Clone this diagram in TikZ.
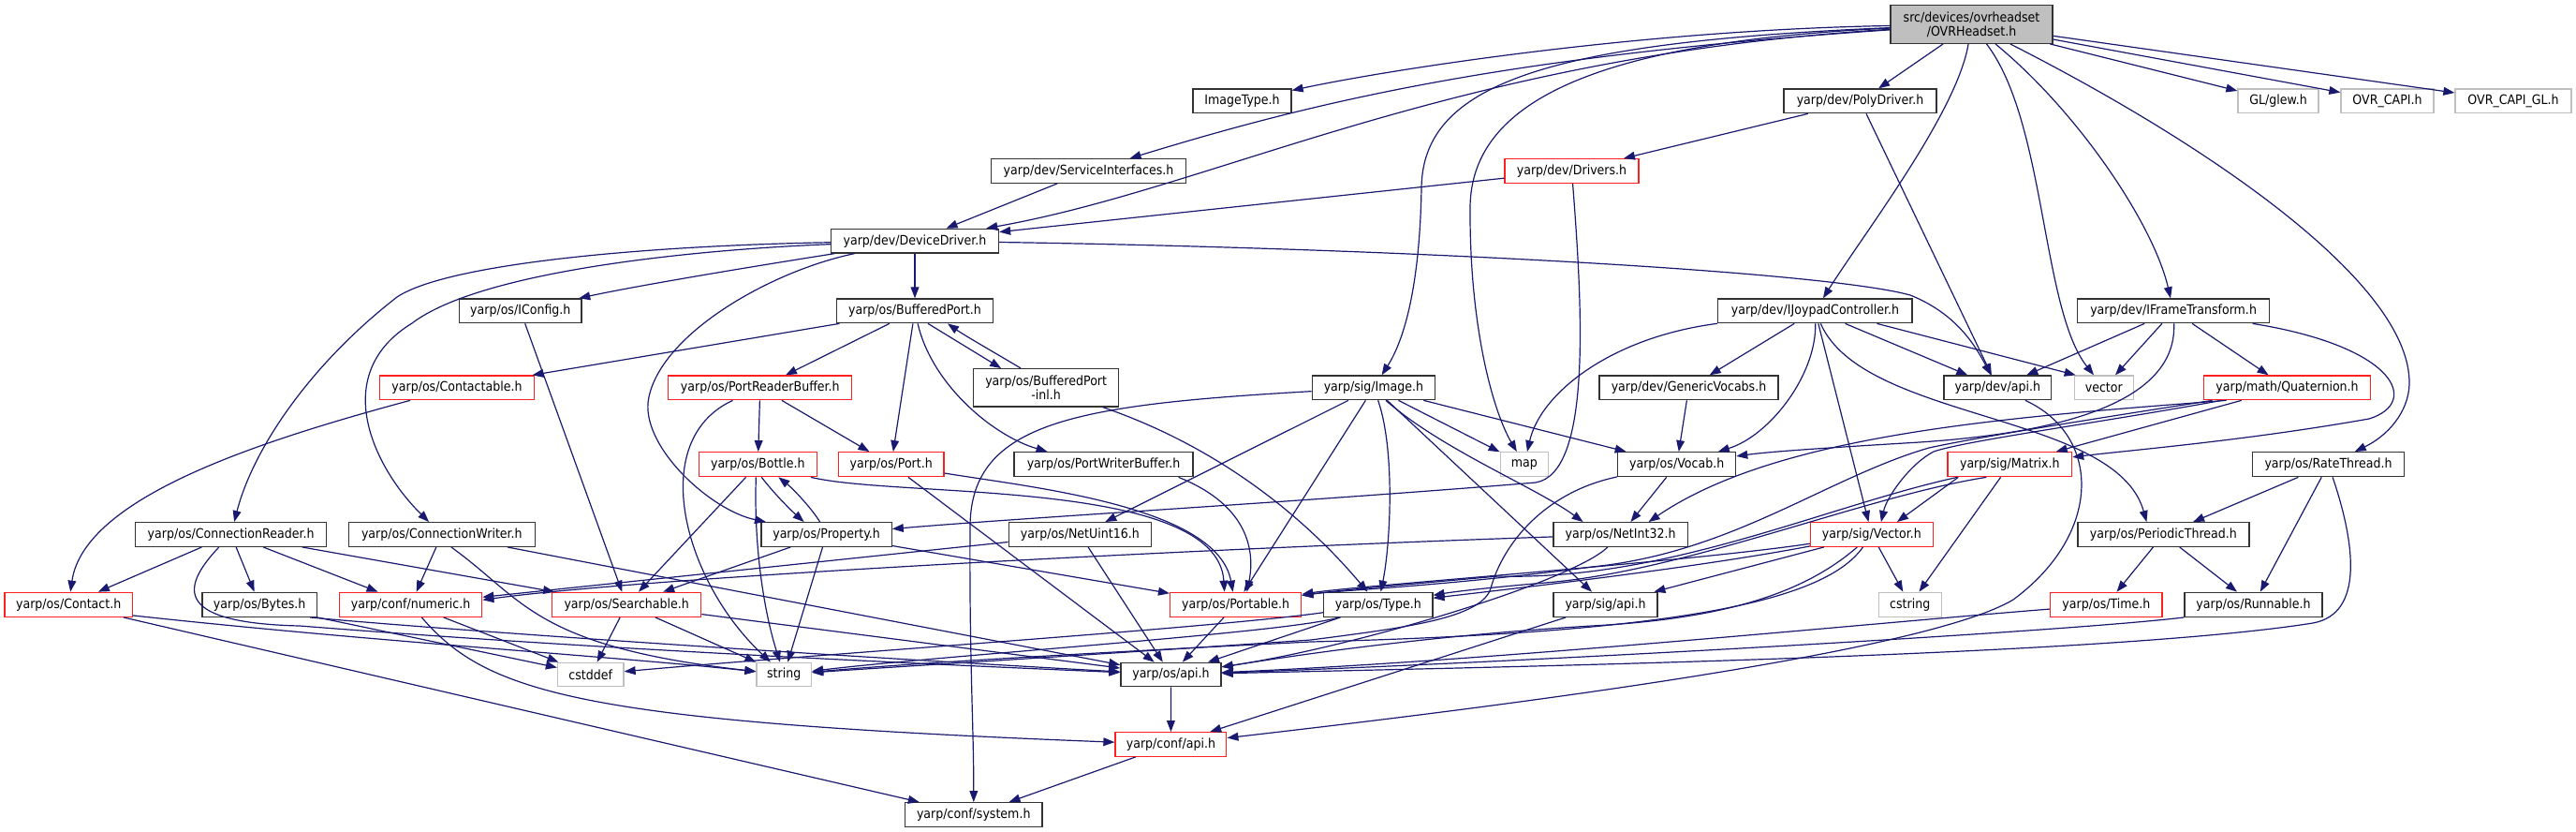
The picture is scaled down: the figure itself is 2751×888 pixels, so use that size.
\documentclass[tikz,border=0pt]{standalone}
\usepackage{fontspec}
\setmainfont{DejaVu Sans}[FakeStretch=0.9]
\usetikzlibrary{arrows.meta,calc}
\definecolor{edgeblue}{HTML}{191970}
\definecolor{greyline}{HTML}{BFBFBF}
\definecolor{rootfill}{HTML}{BFBFBF}
\definecolor{redline}{HTML}{FF2020}
\newcommand\mkbox[7]{\node[#6,minimum width={(#4-#2)*0.5pt},minimum height={(#5-#3)*0.5pt}] (#1) at ({(#2+#4)/2},{(#3+#5)/2}) {#7};}
\begin{document}
\begin{tikzpicture}[x=0.5pt,y=-0.5pt,
  base/.style={rectangle,inner sep=0pt,line width=0.65pt,font=\fontsize{7}{7.5}\selectfont,align=center,fill=white,text=black},
  blk/.style={base,draw=black!80},
  redb/.style={base,draw=redline},
  gry/.style={base,draw=greyline},
  rootbox/.style={base,draw=black!80,fill=rootfill},
  lnk/.style={draw=edgeblue,line width=0.6pt,-{Triangle[length=6pt,width=4.4pt]}}]
\useasboundingbox (0,0) rectangle (2751,888);
\fill[white] (0,0) rectangle (2751,888);
% nodes
\mkbox{root}{2019}{5.7}{2192}{46.3}{rootbox}{src/devices/ovrheadset\\/OVRHeadset.h}
\mkbox{imagetype}{1274}{95}{1379}{120.7}{blk}{ImageType.h}
\mkbox{polydriver}{1905}{95}{2068}{120.7}{blk}{yarp/dev/PolyDriver.h}
\mkbox{glew}{2390}{95}{2476}{120.7}{gry}{GL/glew.h}
\mkbox{ovrcapi}{2500}{95}{2599}{120.7}{gry}{OVR\_CAPI.h}
\mkbox{ovrcapigl}{2622}{95}{2746}{120.7}{gry}{OVR\_CAPI\_GL.h}
\mkbox{svc}{1058.5}{169.7}{1266.5}{195.3}{blk}{yarp/dev/ServiceInterfaces.h}
\mkbox{drivers}{1607}{169.7}{1750}{195.3}{redb}{yarp/dev/Drivers.h}
\mkbox{dd}{887.5}{244.3}{1066.5}{270}{blk}{yarp/dev/DeviceDriver.h}
\mkbox{iconfig}{490.6}{319}{621}{344.7}{blk}{yarp/os/IConfig.h}
\mkbox{bp}{893.3}{319}{1060.7}{344.7}{blk}{yarp/os/BufferedPort.h}
\mkbox{ijoypad}{1834.8}{319}{2042}{344.7}{blk}{yarp/dev/IJoypadController.h}
\mkbox{ift}{2218.4}{319}{2423.8}{344.7}{blk}{yarp/dev/IFrameTransform.h}
\mkbox{contactable}{405.4}{401}{570.5}{426.7}{redb}{yarp/os/Contactable.h}
\mkbox{prb}{713.8}{401}{909.8}{426.7}{redb}{yarp/os/PortReaderBuffer.h}
\mkbox{bpinl}{1039.7}{393.7}{1194.6}{434}{blk}{yarp/os/BufferedPort\\-inl.h}
\mkbox{image}{1401.3}{401}{1532.6}{426.7}{blk}{yarp/sig/Image.h}
\mkbox{genvocabs}{1708}{401}{1899}{426.7}{blk}{yarp/dev/GenericVocabs.h}
\mkbox{devapi}{2076}{401}{2190.7}{426.7}{blk}{yarp/dev/api.h}
\mkbox{stdvector}{2215.3}{401}{2278.2}{426.7}{gry}{vector}
\mkbox{quaternion}{2353.7}{401}{2531.4}{426.7}{redb}{yarp/math/Quaternion.h}
\mkbox{bottle}{746.4}{482.7}{872.3}{508.7}{redb}{yarp/os/Bottle.h}
\mkbox{port}{895.5}{482.7}{1008}{508.7}{redb}{yarp/os/Port.h}
\mkbox{pwb}{1083}{482.7}{1274.1}{508.7}{blk}{yarp/os/PortWriterBuffer.h}
\mkbox{map}{1602.2}{482.7}{1653.6}{508.7}{gry}{map}
\mkbox{vocab}{1727.7}{482.7}{1853.6}{508.7}{blk}{yarp/os/Vocab.h}
\mkbox{matrix}{2080}{482.7}{2212.6}{508.7}{redb}{yarp/sig/Matrix.h}
\mkbox{ratethread}{2405.5}{482.7}{2567.5}{508.7}{blk}{yarp/os/RateThread.h}
\mkbox{cr}{144.6}{557.7}{348.7}{583.3}{blk}{yarp/os/ConnectionReader.h}
\mkbox{cw}{372.3}{557.7}{571.4}{583.3}{blk}{yarp/os/ConnectionWriter.h}
\mkbox{property}{813}{557.7}{952.2}{583.3}{blk}{yarp/os/Property.h}
\mkbox{netuint16}{1077.2}{557.7}{1229.5}{583.3}{blk}{yarp/os/NetUint16.h}
\mkbox{netint32}{1659}{557.7}{1802.2}{583.3}{blk}{yarp/os/NetInt32.h}
\mkbox{sigvector}{1933.5}{557.7}{2064.3}{583.3}{redb}{yarp/sig/Vector.h}
\mkbox{pthread}{2218.9}{557.7}{2401.9}{583.3}{blk}{yarp/os/PeriodicThread.h}
\mkbox{contact}{4.9}{632.3}{141.5}{658.3}{redb}{yarp/os/Contact.h}
\mkbox{bytes}{216}{632.3}{338.4}{658.3}{blk}{yarp/os/Bytes.h}
\mkbox{numeric}{362.5}{632.3}{514.7}{658.3}{redb}{yarp/conf/numeric.h}
\mkbox{searchable}{589.7}{632.3}{748.7}{658.3}{redb}{yarp/os/Searchable.h}
\mkbox{portable}{1249.6}{632.3}{1389.7}{658.3}{redb}{yarp/os/Portable.h}
\mkbox{ostype}{1413.8}{632.3}{1529.9}{658.3}{blk}{yarp/os/Type.h}
\mkbox{sigapi}{1659}{632.3}{1770.1}{658.3}{blk}{yarp/sig/api.h}
\mkbox{cstring}{2006.3}{632.3}{2073.2}{658.3}{gry}{cstring}
\mkbox{ostime}{2189.8}{632.3}{2309}{658.3}{redb}{yarp/os/Time.h}
\mkbox{runnable}{2333}{632.3}{2480}{658.3}{blk}{yarp/os/Runnable.h}
\mkbox{cstddef}{595.5}{707.3}{666}{732.7}{gry}{cstddef}
\mkbox{stdstring}{808}{707.3}{866.5}{732.7}{gry}{string}
\mkbox{osapi}{1196.9}{707.3}{1304}{732.7}{blk}{yarp/os/api.h}
\mkbox{confapi}{1191}{781.7}{1309.8}{807.3}{redb}{yarp/conf/api.h}
\mkbox{confsystem}{966.5}{856.7}{1113}{882.3}{blk}{yarp/conf/system.h}
% edges from root
\draw[lnk] (root) .. controls (1750,32) and (1480,75) .. (imagetype);
\draw[lnk] (root) .. controls (1600,60) and (1400,110) .. (svc);
\draw[lnk] (root) .. controls (1550,60) and (1300,200) .. (dd);
\draw[lnk] (root) .. controls (1650,45) and (1520,90) .. (1518,200) .. controls (1516,320) and (1495,370) .. (image);
\draw[lnk] (root) .. controls (1700,45) and (1572,110) .. (1570,220) .. controls (1569,350) and (1595,440) .. (map);
\draw[lnk] (root) -- (polydriver);
\draw[lnk] (root) -- (glew);
\draw[lnk] (root) -- (ovrcapi);
\draw[lnk] (root) -- (ovrcapigl);
\draw[lnk] (root) .. controls (2090,120) and (1990,250) .. (ijoypad);
\draw[lnk] (root) .. controls (2185,130) and (2180,330) .. (stdvector);
\draw[lnk] (root) .. controls (2220,120) and (2300,240) .. (ift);
\draw[lnk] (root) .. controls (2350,150) and (2575,300) .. (2573,410) .. controls (2572,440) and (2550,465) .. (ratethread);
% upper part
\draw[lnk] (svc) -- (dd);
\draw[lnk] (polydriver) -- (drivers);
\draw[lnk] (polydriver) -- (devapi);
\draw[lnk] (drivers) -- (dd);
\draw[lnk] (drivers) .. controls (1690,330) and (1700,505) .. (1640,515) .. controls (1400,535) and (1100,552) .. (property);
\draw[lnk] (dd) -- (bp);
\draw[lnk] (dd) .. controls (800,285) and (680,305) .. (iconfig);
\draw[lnk] (dd) .. controls (700,262) and (480,280) .. (424,317) .. controls (330,390) and (270,480) .. (cr);
\draw[lnk] (dd) .. controls (750,266) and (515,288) .. (440,345) .. controls (350,400) and (400,500) .. (cw);
\draw[lnk] (dd) .. controls (820,290) and (700,360) .. (692,430) .. controls (688,480) and (760,545) .. (property);
\draw[lnk] (dd) .. controls (1500,265) and (1950,290) .. (2040,315) .. controls (2090,335) and (2110,370) .. (devapi);
\draw[lnk] (iconfig) -- (searchable);
\draw[lnk] (contactable) .. controls (280,470) and (90,530) .. (contact);
% buffered port
\draw[lnk] (bp) -- (prb);
\draw[lnk] (bp) -- (port);
\draw[lnk] ($(bp.south)+(14,0)$) -- ($(bpinl.north)+(-48,0)$);
\draw[lnk] ($(bpinl.north)+(-27,0)$) .. controls (1065,378) and (1030,358) .. ($(bp.south)+(35,0)$);
\draw[lnk] (bp) .. controls (995,410) and (1060,465) .. ($(pwb.north)+(-60,0)$);
\draw[lnk] (bp) -- (contactable);
\draw[lnk] (bpinl) .. controls (1310,480) and (1400,560) .. (ostype);
\draw[lnk] (prb) -- (bottle);
\draw[lnk] (prb) -- (port);
\draw[lnk] (prb) .. controls (690,470) and (730,620) .. (stdstring);
% bottle / property
\draw[lnk] ($(bottle.south)+(4,0)$) .. controls (825,525) and (845,545) .. ($(property.north)+(-24,0)$);
\draw[lnk] ($(property.north)+(-7,0)$) .. controls (865,540) and (845,520) .. ($(bottle.south)+(22,0)$);
\draw[lnk] (bottle) -- (searchable);
\draw[lnk] ($(bottle.south)+(-2,0)$) .. controls (805,580) and (815,650) .. (stdstring);
\draw[lnk] (bottle) .. controls (960,532) and (1300,510) .. ($(portable.north)+(-12,0)$);
\draw[lnk] (port) .. controls (1100,520) and (1300,540) .. ($(portable.north)+(-3,0)$);
\draw[lnk] (port) -- (osapi);
\draw[lnk] (property) -- (searchable);
\draw[lnk] (property) -- (stdstring);
\draw[lnk] (property) -- (portable);
\draw[lnk] ($(pwb.south)+(80,0)$) .. controls (1335,540) and (1340,590) .. ($(portable.north)+(12,0)$);
\draw[lnk] (netuint16) -- (osapi);
\draw[lnk] (netuint16) -- ($(numeric.east)+(0,-8)$);
\draw[lnk] (netint32) .. controls (1300,585) and (700,615) .. ($(numeric.east)+(0,-5)$);
\draw[lnk] (netint32) .. controls (1680,620) and (1450,690) .. (osapi);
% image
\draw[lnk] (image) -- (netuint16);
\draw[lnk] (image) -- (portable);
\draw[lnk] (image) .. controls (1490,480) and (1485,580) .. (ostype);
\draw[lnk] (image) -- (sigapi);
\draw[lnk] ($(image.south)+(13,0)$) .. controls (1540,480) and (1640,520) .. ($(netint32.north)+(-40,0)$);
\draw[lnk] (image) -- (map);
\draw[lnk] (image) -- (vocab);
\draw[lnk] (image) .. controls (1150,432) and (1038,450) .. (1036,560) .. controls (1035,700) and (1040,780) .. (confsystem);
% joypad
\draw[lnk] (ijoypad) .. controls (1720,360) and (1645,420) .. (map);
\draw[lnk] (ijoypad) -- (genvocabs);
\draw[lnk] (ijoypad) .. controls (1940,400) and (1890,465) .. (vocab);
\draw[lnk] (ijoypad) -- (sigvector);
\draw[lnk] (ijoypad) -- (devapi);
\draw[lnk] ($(ijoypad.south)+(66,0)$) -- ($(stdvector.north west)+(2,0)$);
\draw[lnk] (ijoypad) .. controls (1990,450) and (2260,440) .. ($(pthread.north)+(-18,0)$);
% frame transform
\draw[lnk] (ift) -- (devapi);
\draw[lnk] (ift) -- (stdvector);
\draw[lnk] (ift) -- (quaternion);
\draw[lnk] (ift) .. controls (2560,370) and (2585,430) .. (2530,447) .. controls (2400,470) and (2280,480) .. (matrix);
\draw[lnk] (ift) .. controls (2325,430) and (2200,462) .. (2050,472) .. controls (1950,478) and (1890,482) .. (vocab);
% quaternion / matrix / vector
\draw[lnk] (quaternion) -- (matrix);
\draw[lnk] ($(quaternion.south)+(-65,0)$) .. controls (2150,445) and (1900,462) .. ($(netint32.north)+(30,0)$);
\draw[lnk] ($(quaternion.south)+(-70,0)$) .. controls (2250,450) and (2100,470) .. (2065,482) .. controls (2040,495) and (2015,530) .. ($(sigvector.north)+(10,0)$);
\draw[lnk] ($(quaternion.south)+(-80,0)$) .. controls (2250,445) and (2120,465) .. (2060,478) .. controls (1950,510) and (1850,590) .. (1700,605) .. controls (1550,625) and (1430,630) .. (portable);
\draw[lnk] ($(matrix.south west)+(12,0)$) -- ($(sigvector.north)+(27,0)$);
\draw[lnk] (matrix) -- (cstring);
\draw[lnk] ($(matrix.south west)+(11,0)$) .. controls (1950,540) and (1780,620) .. (1600,615) .. controls (1500,624) and (1430,630) .. (portable);
\draw[lnk] ($(matrix.south west)+(42,0)$) .. controls (1990,530) and (1800,610) .. (1650,622) .. controls (1580,628) and (1550,632) .. (ostype);
\draw[lnk] (sigvector) .. controls (1800,600) and (1450,625) .. (portable);
\draw[lnk] (sigvector) .. controls (1800,608) and (1600,630) .. (ostype);
\draw[lnk] (sigvector) -- (sigapi);
\draw[lnk] (sigvector) -- (cstring);
\draw[lnk] (sigvector) .. controls (1950,640) and (1800,675) .. (1400,685) .. controls (1100,700) and (950,710) .. (stdstring);
\draw[lnk] (sigvector) .. controls (1930,630) and (1850,660) .. (1700,668) .. controls (1500,680) and (1350,705) .. (osapi);
% vocab, type
\draw[lnk] (genvocabs) -- (vocab);
\draw[lnk] (vocab) -- (netint32);
\draw[lnk] (vocab) .. controls (1650,525) and (1605,580) .. (1592,628) .. controls (1582,660) and (1500,670) .. (1400,683) .. controls (1150,700) and (950,712) .. (stdstring);
\draw[lnk] (ostype) .. controls (1380,675) and (1000,700) .. (stdstring);
\draw[lnk] (ostype) -- (osapi);
\draw[lnk] (ostype) .. controls (1300,670) and (850,700) .. (cstddef);
\draw[lnk] (sigapi) -- (confapi);
\draw[lnk] (devapi) .. controls (2245,465) and (2245,570) .. (2150,640) .. controls (2050,700) and (1550,760) .. (confapi);
% threads
\draw[lnk] (pthread) -- (ostime);
\draw[lnk] (pthread) -- (runnable);
\draw[lnk] (ratethread) -- (pthread);
\draw[lnk] (ratethread) -- (runnable);
\draw[lnk] (ratethread) .. controls (2515,580) and (2525,655) .. (2470,665) .. controls (2250,700) and (1600,712) .. (osapi);
\draw[lnk] (ostime) .. controls (2000,665) and (1600,705) .. (osapi);
\draw[lnk] (runnable.south west) .. controls (2200,675) and (1600,708) .. (osapi);
% bottom part
\draw[lnk] (portable) -- (osapi);
\draw[lnk] (osapi) -- (confapi);
\draw[lnk] (confapi) -- (confsystem);
\draw[lnk] (searchable) -- (cstddef);
\draw[lnk] (searchable) -- (stdstring);
\draw[lnk] (searchable) -- (osapi);
\draw[lnk] (numeric) -- (cstddef);
\draw[lnk] (numeric) .. controls (520,740) and (620,770) .. (confapi);
\draw[lnk] (contact) -- (confsystem);
\draw[lnk] ($(contact.south east)+(0,-2)$) .. controls (400,685) and (650,700) .. (stdstring);
\draw[lnk] ($(bytes.south east)+(-8,0)$) .. controls (450,670) and (800,695) .. (osapi);
\draw[lnk] (bytes.south east) -- (cstddef);
\draw[lnk] (cr) -- (contact);
\draw[lnk] (cr) -- (bytes);
\draw[lnk] (cr) -- (numeric);
\draw[lnk] (cr) -- (searchable);
\draw[lnk] (cr) .. controls (190,630) and (190,665) .. (320,668) .. controls (600,690) and (900,705) .. (osapi);
\draw[lnk] (cw) -- (numeric);
\draw[lnk] ($(cw.south)+(10,0)$) .. controls (560,640) and (570,690) .. (stdstring);
\draw[lnk] (cw) -- (osapi);
\end{tikzpicture}
\end{document}
